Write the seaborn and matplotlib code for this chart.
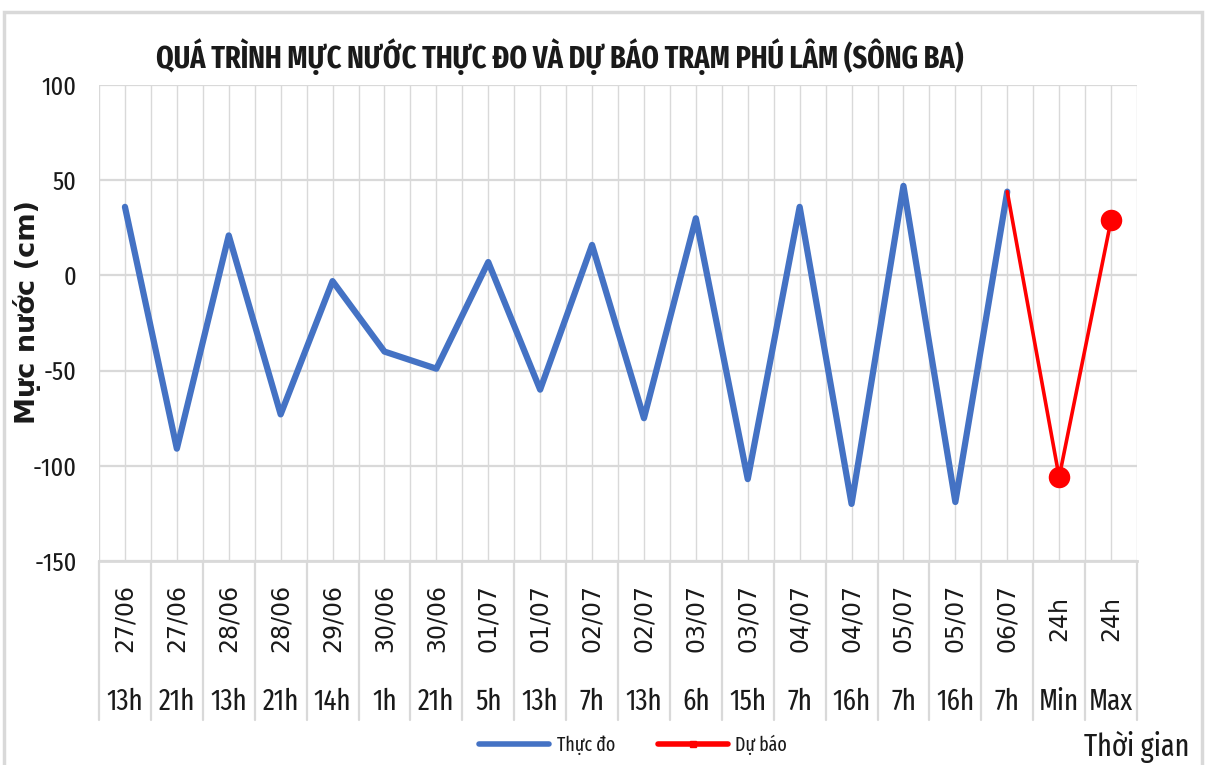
import numpy as np
import pandas as pd
import matplotlib.pyplot as plt
import matplotlib.transforms as mtransforms
from matplotlib.lines import Line2D
from matplotlib.patches import Rectangle
import seaborn as sns

# =========================
# DATA
# =========================
dates = ["27/06", "27/06", "28/06", "28/06", "29/06", "30/06", "30/06", "01/07", "01/07", "02/07",
         "02/07", "03/07", "03/07", "04/07", "04/07", "05/07", "05/07", "06/07", "24h", "24h"]
hours = ["13h", "21h", "13h", "21h", "14h", "1h", "21h", "5h", "13h", "7h",
         "13h", "6h", "15h", "7h", "16h", "7h", "16h", "7h", "Min", "Max"]
observed = [36, -91, 21, -73, -3, -40, -49, 7, -60, 16, -75, 30, -107, 36, -120, 47, -119, 44]
forecast = [44, -106, 29]          # 06/07 7h, Min, Max
forecast_start = 17

obs_df = pd.DataFrame({"idx": range(len(observed)), "level": observed})
fc_df = pd.DataFrame({"idx": range(forecast_start, forecast_start + len(forecast)), "level": forecast})

BLUE = "#4472C4"
RED = "#FF0000"
GRID = "#D9D9D9"
TXT = "#1a1a1a"

sns.set_style("white")
NARROW = ["Fira Sans Extra Condensed", "DejaVu Sans"]
WIDE = ["DejaVu Sans"]
plt.rcParams["font.family"] = NARROW
plt.rcParams["text.color"] = TXT
plt.rcParams["ytick.color"] = TXT

fig = plt.figure(figsize=(12.06, 7.65), dpi=100)
ax = fig.add_axes([99 / 1206, 1 - 561 / 765, (1137 - 99) / 1206, (561 - 85) / 765])

# outer chart frame
fig.patches.append(Rectangle((4 / 1206, -0.05), 1198 / 1206, 1 - 12 / 765 + 0.05,
                             transform=fig.transFigure, fill=False, ec=GRID, lw=2.5))

# =========================
# LINES
# =========================
sns.lineplot(data=obs_df, x="idx", y="level", ax=ax, color=BLUE, lw=4.5, solid_joinstyle="round",
             solid_capstyle="round", legend=False, zorder=3)
sns.lineplot(data=fc_df, x="idx", y="level", ax=ax, color=RED, lw=2.6, legend=False, zorder=4)
sns.scatterplot(data=fc_df.iloc[1:], x="idx", y="level", ax=ax, color=RED, s=240,
                edgecolor=RED, linewidth=0, legend=False, zorder=5)

# =========================
# AXES
# =========================
n = len(dates)
ax.set_xlim(-0.5, n - 0.5)
ax.set_ylim(-150, 100)
ax.set_yticks(np.arange(-150, 101, 50))
ax.set_yticklabels([str(v) for v in range(-150, 101, 50)])
ax.set_xticks(np.arange(-0.5, n, 1))
ax.set_xticks(np.arange(0, n, 1), minor=True)
ax.set_xticklabels([])
ax.tick_params(axis="both", which="both", length=0)
ax.tick_params(axis="y", labelsize=19, pad=16)
ax.grid(True, which="both", axis="x", color=GRID, lw=1)
ax.grid(True, which="major", axis="y", color=GRID, lw=1.6)
for s in ["top", "right", "left"]:
    ax.spines[s].set_visible(False)
ax.spines["bottom"].set_color(GRID)
ax.spines["bottom"].set_linewidth(2)
ax.set_xlabel("")
ax.set_ylabel("")

# multi-level category labels
trans = mtransforms.blended_transform_factory(ax.transData, ax.transAxes)
for i in range(n):
    ax.text(i, -0.12, dates[i], transform=trans, rotation=90, ha="center", va="center",
            fontsize=17, family=WIDE)
    ax.text(i, -0.296, hours[i], transform=trans, ha="center", va="center", fontsize=21)
for b in np.arange(-0.5, n, 1):
    ax.plot([b, b], [0, -0.334], transform=trans, color=GRID, lw=1.6, clip_on=False)

# =========================
# TEXT
# =========================
fig.text(560 / 1206, 1 - 57 / 765, "QUÁ TRÌNH MỰC NƯỚC THỰC ĐO VÀ DỰ BÁO TRẠM PHÚ LÂM (SÔNG BA)",
         ha="center", va="center", fontsize=22, fontweight="bold")
fig.text(27 / 1206, 1 - 312 / 765, "Mực nước (cm)", rotation=90, ha="center", va="center",
         fontsize=19.5, fontweight="bold", family=WIDE)
fig.text(1137 / 1206, 1 - 747 / 765, "Thời gian", ha="center", va="center", fontsize=22)

handles = [Line2D([], [], color=BLUE, lw=4),
           Line2D([], [], color=RED, lw=4, marker="s", markersize=5)]
fig.legend(handles, ["Thực đo", "Dự báo"], loc="center", bbox_to_anchor=(633 / 1206, 1 - 745 / 765),
           ncol=2, frameon=False, fontsize=14, handlelength=3.6, columnspacing=2.2, handletextpad=0.4)

fig.savefig("out.png", dpi=100)
